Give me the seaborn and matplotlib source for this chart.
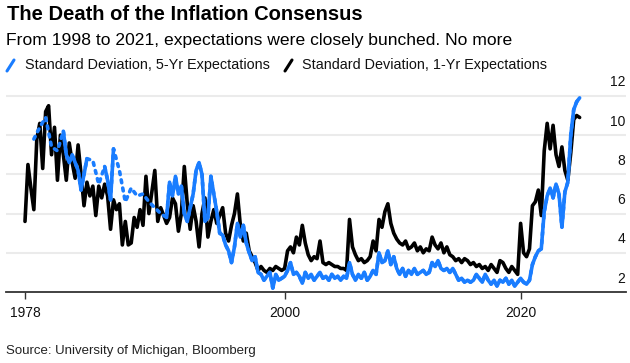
import numpy as np
import pandas as pd
import matplotlib.pyplot as plt
import seaborn as sns
from matplotlib import font_manager
from matplotlib.lines import Line2D
from matplotlib.transforms import blended_transform_factory

nan = np.nan

# Quarterly readings, 1978.00 to 2025.00
start_year = 1978
one_yr_sd = [
    5.6, 8.5, 7.3, 6.2,   # 1978
    9.8, 10.6, 8.3, 11.2,  # 1979
    11.5, 9.0, 10.4, 7.7,  # 1980
    10.0, 9.0, 7.7, 9.6,   # 1981
    8.6, 7.8, 9.5, 8.0,    # 1982
    6.4, 7.6, 6.9, 7.4,    # 1983
    5.9, 7.4, 6.8, 7.5,    # 1984
    6.9, 5.2, 6.7, 6.2,    # 1985
    6.5, 4.4, 5.6, 4.4,    # 1986
    4.5, 5.8, 5.3, 6.2,    # 1987
    5.4, 7.9, 6.0, 7.1,    # 1988
    8.2, 5.6, 6.3, 5.9,    # 1989
    5.5, 5.8, 6.8, 6.5,    # 1990
    5.1, 6.0, 8.4, 6.5,    # 1991
    5.2, 6.4, 5.6, 4.3,    # 1992
    6.0, 6.8, 4.8, 5.6,    # 1993
    6.2, 5.5, 5.9, 6.3,    # 1994
    5.0, 4.6, 5.4, 6.0,    # 1995
    7.0, 5.4, 4.6, 5.0,    # 1996
    4.1, 3.8, 3.5, 3.1,    # 1997
    3.3, 3.1, 3.0, 3.2,    # 1998
    3.1, 3.3, 3.2, 3.1,    # 1999
    3.2, 4.1, 4.3, 4.0,    # 2000
    4.8, 4.4, 5.4, 4.5,    # 2001
    3.9, 3.6, 3.8, 3.7,    # 2002
    4.6, 3.5, 3.4, 3.5,    # 2003
    3.4, 3.3, 3.3, 3.2,    # 2004
    3.2, 3.1, 5.7, 4.3,    # 2005
    3.9, 3.6, 3.7, 3.5,    # 2006
    3.6, 3.8, 4.6, 4.1,    # 2007
    5.7, 5.3, 6.1, 6.5,    # 2008
    5.5, 5.0, 4.7, 4.5,    # 2009
    4.4, 4.6, 4.2, 4.3,    # 2010
    4.5, 4.1, 4.3, 4.0,    # 2011
    4.2, 4.1, 4.8, 4.4,    # 2012
    4.2, 4.5, 4.0, 4.3,    # 2013
    3.9, 3.8, 3.6, 3.7,    # 2014
    3.5, 3.7, 3.6, 3.4,    # 2015
    3.5, 3.3, 3.4, 3.2,    # 2016
    3.3, 3.1, 3.4, 3.2,    # 2017
    3.0, 3.6, 3.5, 3.2,    # 2018
    3.0, 3.3, 3.1, 2.9,    # 2019
    5.5, 4.0, 3.8, 4.2,    # 2020
    6.4, 6.6, 7.2, 5.9,    # 2021
    9.2, 10.6, 9.3, 10.5,  # 2022
    9.0, 8.4, 9.4, 8.2,    # 2023
    7.7, 9.1, 10.8, 11.0,  # 2024
    10.9,                  # 2025
]

# NaN = no survey reading (drawn dotted across the gap)
five_yr_sd = [
    nan, nan, nan, 9.8,    # 1978
    nan, 10.4, nan, 10.9,  # 1979
    nan, 9.4, nan, 9.2,    # 1980
    nan, 10.2, 9.0, 8.6,   # 1981
    9.0, 8.6, 8.2, 7.2,    # 1982
    8.0, 8.8, nan, 8.7,    # 1983
    nan, 7.5, nan, 8.4,    # 1984
    7.7, 6.7, 9.3, nan,    # 1985
    8.2, nan, 6.6, nan,    # 1986
    7.3, nan, 6.9, nan,    # 1987
    7.0, nan, 6.6, nan,    # 1988
    6.3, nan, 6.0, nan,    # 1989
    5.8, 7.6, 6.9, 7.9,    # 1990
    7.0, 7.4, 6.0, 5.6,    # 1991
    6.3, 7.0, 8.2, 8.6,    # 1992
    8.0, 5.6, 5.8, 7.9,    # 1993
    7.0, 6.1, 5.0, 4.9,    # 1994
    4.4, 4.1, 3.5, 4.3,    # 1995
    5.5, 4.8, 5.4, 4.5,    # 1996
    4.0, 3.6, 3.8, 3.0,    # 1997
    2.9, 2.6, 2.8, 3.0,    # 1998
    2.2, 2.9, 2.6, 2.7,    # 1999
    2.8, 3.1, 3.5, 2.9,    # 2000
    3.0, 2.8, 2.45, 3.0,   # 2001
    2.7, 2.9, 2.6, 2.8,    # 2002
    3.0, 2.7, 2.8, 2.6,    # 2003
    2.9, 2.7, 2.8, 2.6,    # 2004
    2.8, 2.7, 3.5, 2.9,    # 2005
    2.6, 2.9, 2.7, 3.0,    # 2006
    2.6, 2.8, 3.1, 2.9,    # 2007
    4.0, 3.5, 3.6, 4.1,    # 2008
    3.4, 3.8, 3.2, 2.9,    # 2009
    3.2, 2.8, 3.1, 2.9,    # 2010
    3.2, 2.9, 3.0, 3.1,    # 2011
    2.9, 3.0, 3.5, 3.3,    # 2012
    3.6, 3.2, 3.1, 3.2,    # 2013
    3.0, 3.2, 2.9, 2.6,    # 2014
    2.7, 2.5, 2.6, 2.5,    # 2015
    2.6, 2.9, 2.7, 2.5,    # 2016
    2.9, 2.6, 2.4, 2.6,    # 2017
    2.3, 2.6, 2.5, 2.7,    # 2018
    2.4, 2.6, 2.3, 2.5,    # 2019
    2.7, 2.5, 2.4, 2.6,    # 2020
    3.4, 3.8, 4.1, 4.2,    # 2021
    6.1, 6.9, 7.3, 6.8,    # 2022
    7.5, 7.0, 5.3, 7.1,    # 2023
    7.6, 10.0, 11.3, 11.7, # 2024
    11.9,                  # 2025
]

x_ticks = [1978, 2000, 2020]
y_ticks = [2, 4, 6, 8, 10, 12]

title = "The Death of the Inflation Consensus"
subtitle = "From 1998 to 2021, expectations were closely bunched. No more"
label_5yr = "Standard Deviation, 5-Yr Expectations"
label_1yr = "Standard Deviation, 1-Yr Expectations"
source = "Source: University of Michigan, Bloomberg"

BLUE = "#1a7dff"
LW = 2.6

years = start_year + np.arange(len(one_yr_sd)) * 0.25
df = pd.DataFrame({"year": years, "one_yr": one_yr_sd, "five_yr": five_yr_sd})

# solid blue only where consecutive readings exist
five = df[["year", "five_yr"]].copy()
five["seg"] = five["five_yr"].isna().cumsum()
five = five.dropna()

sns.set_theme(style="white")
plt.rcParams["font.family"] = ["Liberation Sans", "DejaVu Sans"]

installed = {f.name for f in font_manager.fontManager.ttflist}
if "Liberation Sans Narrow" in installed:
    legend_font = dict(family=["Liberation Sans Narrow", "DejaVu Sans"], fontsize=12.4)
else:
    legend_font = dict(fontsize=10.4)

fig = plt.figure(figsize=(6.3, 3.63), dpi=100)
ax = fig.add_axes([6 / 630, 71 / 363, 620 / 630, 200 / 363])

for y in y_ticks[1:]:
    ax.axhline(y, color="#ebebeb", lw=1.5, zorder=0)

sns.lineplot(data=df, x="year", y="one_yr", color="black", lw=LW,
             ax=ax, zorder=2)
sns.lineplot(data=five, x="year", y="five_yr", color=BLUE, lw=LW,
             linestyle=(0, (0.8, 1.5)), dash_capstyle="round", ax=ax, zorder=3)
sns.lineplot(data=five, x="year", y="five_yr", units="seg",
             estimator=None, color=BLUE, lw=LW, ax=ax, zorder=3)

ax.set_xlim(1976.39, 2028.93)
ax.set_ylim(2, 12.2)
ax.set_xlabel("")
ax.set_ylabel("")
ax.set_yticks([])
ax.set_xticks(x_ticks)
ax.set_xticklabels([str(t) for t in x_ticks])
ax.tick_params(axis="x", direction="out", length=5, width=1, color="#333333",
               labelsize=10, pad=5, bottom=True, labelcolor="#111111")
for side in ["top", "left", "right"]:
    ax.spines[side].set_visible(False)
ax.spines["bottom"].set_color("#333333")
ax.spines["bottom"].set_linewidth(1.3)

trans = blended_transform_factory(ax.transAxes, ax.transData)
for y in y_ticks:
    ax.text(0.9985, y + 0.33, str(y), transform=trans, ha="right", va="bottom",
            fontsize=10, color="#111111")

fig.text(7 / 630, 1 - 14 / 363, title, fontsize=14.5, fontweight="bold",
         va="center", ha="left", color="black")
fig.text(6 / 630, 1 - 41 / 363, subtitle, fontsize=12.6, va="center",
         ha="left", color="black")

# legend
fig.add_artist(Line2D([7 / 630, 14 / 630], [1 - 71 / 363, 1 - 60 / 363],
                      color=BLUE, lw=2.2, solid_capstyle="round"))
fig.text(25 / 630, 1 - 65 / 363, label_5yr, va="center",
         ha="left", color="#111111", **legend_font)
fig.add_artist(Line2D([285 / 630, 292 / 630], [1 - 71 / 363, 1 - 60 / 363],
                      color="black", lw=2.2, solid_capstyle="round"))
fig.text(302 / 630, 1 - 65 / 363, label_1yr, va="center",
         ha="left", color="#111111", **legend_font)

fig.text(6 / 630, 1 - 351 / 363, source, fontsize=9.5, va="center",
         ha="left", color="#222222")

fig.savefig("out.png", dpi=100)
